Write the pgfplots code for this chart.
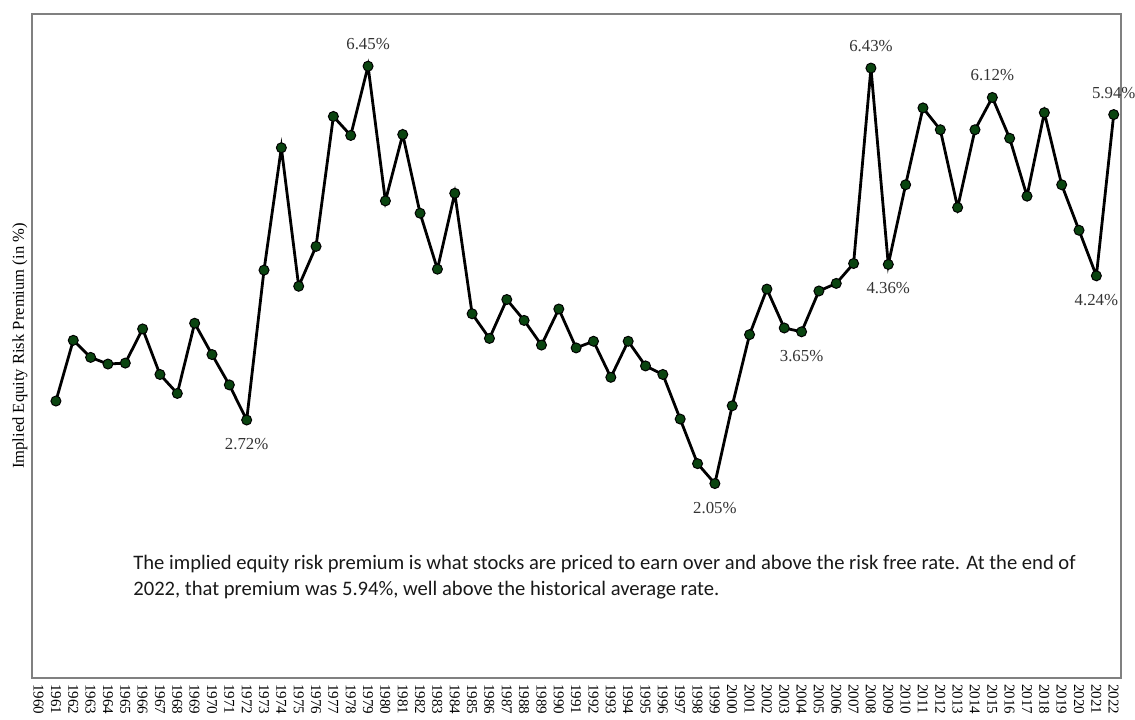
\documentclass[border=0pt]{standalone}
\usepackage{fontspec}
\setmainfont{Liberation Serif}
\newfontfamily\calibri{Carlito}
\usepackage{pgfplots}
\pgfplotsset{compat=1.18}
\definecolor{mk}{RGB}{10,68,16}
\definecolor{frame}{RGB}{128,128,128}

\pgfplotstableread{
year erp
1961 2.92
1962 3.56
1963 3.38
1964 3.31
1965 3.32
1966 3.68
1967 3.20
1968 3.00
1969 3.74
1970 3.41
1971 3.09
1972 2.72
1973 4.30
1974 5.59
1975 4.13
1976 4.55
1977 5.92
1978 5.72
1979 6.45
1980 5.03
1981 5.73
1982 4.90
1983 4.31
1984 5.11
1985 3.84
1986 3.58
1987 3.99
1988 3.77
1989 3.51
1990 3.89
1991 3.48
1992 3.55
1993 3.17
1994 3.55
1995 3.29
1996 3.20
1997 2.73
1998 2.26
1999 2.05
2000 2.87
2001 3.62
2002 4.10
2003 3.69
2004 3.65
2005 4.08
2006 4.16
2007 4.37
2008 6.43
2009 4.36
2010 5.20
2011 6.01
2012 5.78
2013 4.96
2014 5.78
2015 6.12
2016 5.69
2017 5.08
2018 5.96
2019 5.20
2020 4.72
2021 4.24
2022 5.94
}\erp

\begin{document}
\begin{tikzpicture}
\begin{axis}[
  scale only axis,
  width=544.5pt, height=332pt,
  xmin=1959.62, xmax=2022.42,
  ymin=0, ymax=7,
  clip=false,
  axis line style={frame, line width=0.9pt},
  xtick={1960,...,2022},
  xticklabel={\pgfmathparse{int(round(\tick))}\pgfmathresult},
  ytick=\empty,
  major tick length=0pt,
  xticklabel shift=3pt,
  xticklabel style={rotate=-90, anchor=west, inner sep=0pt, font=\fontsize{7.5}{8}\selectfont},
  ylabel={Implied Equity Risk Premium (in \%)},
  y label style={at={(axis description cs:-0.011,0.5)}, anchor=center, font=\fontsize{8.3}{9}\selectfont},
]
\addplot[black, line width=1.4pt, mark=*, mark size=2.5pt,
  mark options={fill=mk, draw=black, line width=0.5pt}] table[x=year, y=erp] {\erp};

\begin{scope}[every node/.style={font=\fontsize{8.4}{9}\selectfont, text=black!80}]
\node[yshift=11pt]  at (axis cs:1979,6.45) {6.45\%};
\node[yshift=-12pt] at (axis cs:1972,2.72) {2.72\%};
\node[yshift=-12pt] at (axis cs:1999,2.05) {2.05\%};
\node[yshift=11pt]  at (axis cs:2008,6.43) {6.43\%};
\node[yshift=-12pt] at (axis cs:2009,4.36) {4.36\%};
\node[yshift=-12pt] at (axis cs:2004,3.65) {3.65\%};
\node[yshift=11pt]  at (axis cs:2015,6.12) {6.12\%};
\node[yshift=-12pt] at (axis cs:2021,4.24) {4.24\%};
\node[yshift=11pt]  at (axis cs:2022,5.94) {5.94\%};
\end{scope}
\end{axis}
\node[anchor=base west, inner sep=0pt, align=left, font=\calibri\fontsize{10.3}{13}\selectfont, text=black!90]
  at (50.5pt,41.5pt) {The implied equity risk premium is what stocks are priced to earn over and above the risk free rate. At the end of\\
2022, that premium was 5.94\%, well above the historical average rate.};
\pgfresetboundingbox
\useasboundingbox (-16pt,-20.5pt) rectangle (551.5pt,339pt);
\end{tikzpicture}
\end{document}
